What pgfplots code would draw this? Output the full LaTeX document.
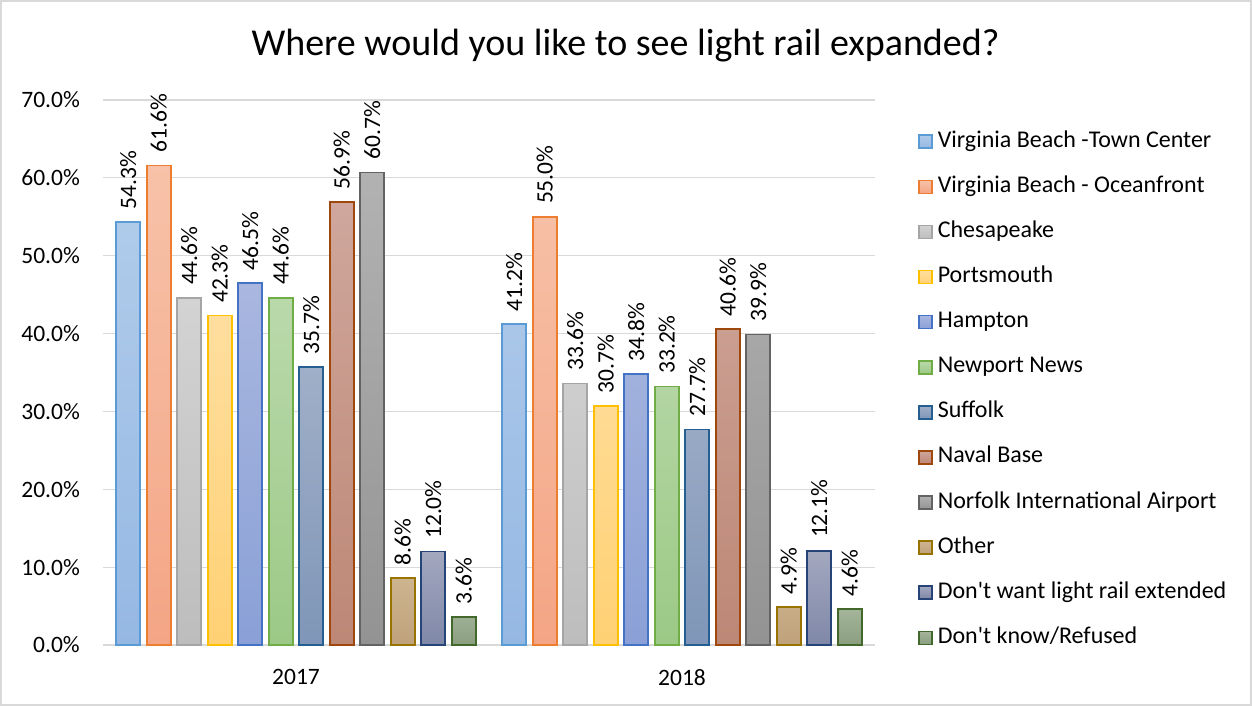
\documentclass[border=0pt]{standalone}
\usepackage{pgfplots}
\usepackage{pgfplotstable}
\pgfplotsset{compat=1.18}
\usepackage{fontspec}
\setmainfont{Carlito}

\definecolor{gridc}{HTML}{D9D9D9}
\definecolor{t1}{HTML}{B0CBEA}\definecolor{u1}{HTML}{95B8E3}\definecolor{d1}{HTML}{5B9BD5}
\definecolor{t2}{HTML}{F7C2A9}\definecolor{u2}{HTML}{F4A585}\definecolor{d2}{HTML}{ED7D31}
\definecolor{t3}{HTML}{D3D3D3}\definecolor{u3}{HTML}{BDBDBD}\definecolor{d3}{HTML}{A5A5A5}
\definecolor{t4}{HTML}{FFDE9E}\definecolor{u4}{HTML}{FFD174}\definecolor{d4}{HTML}{FFC000}
\definecolor{t5}{HTML}{A9B7E0}\definecolor{u5}{HTML}{8AA0D6}\definecolor{d5}{HTML}{4472C4}
\definecolor{t6}{HTML}{BAD9AB}\definecolor{u6}{HTML}{9CC986}\definecolor{d6}{HTML}{70AD47}
\definecolor{t7}{HTML}{A0AFC8}\definecolor{u7}{HTML}{7F96B8}\definecolor{d7}{HTML}{255E91}
\definecolor{t8}{HTML}{CFA79C}\definecolor{u8}{HTML}{BD8776}\definecolor{d8}{HTML}{9E480E}
\definecolor{t9}{HTML}{B2B2B2}\definecolor{u9}{HTML}{939393}\definecolor{d9}{HTML}{636363}
\definecolor{t10}{HTML}{CDB590}\definecolor{u10}{HTML}{BFA27A}\definecolor{d10}{HTML}{997300}
\definecolor{t11}{HTML}{A3A8BF}\definecolor{u11}{HTML}{8088A8}\definecolor{d11}{HTML}{264478}
\definecolor{t12}{HTML}{A4B59A}\definecolor{u12}{HTML}{8A9E7F}\definecolor{d12}{HTML}{43682B}

\pgfplotstableread{
x s1 s2 s3 s4 s5 s6 s7 s8 s9 s10 s11 s12
0 54.3 61.6 44.6 42.3 46.5 44.6 35.7 56.9 60.7 8.6 12.0 3.6
1 41.2 55.0 33.6 30.7 34.8 33.2 27.7 40.6 39.9 4.9 12.1 4.6
}\datatable

\pgfplotsset{
  bs/.style={top color=t#1, bottom color=u#1, draw=d#1, line width=1.6pt},
}

\begin{document}
\begin{tikzpicture}[x=1pt,y=1pt]
\useasboundingbox (0pt,0pt) rectangle (1252pt,706pt);
\draw[gridc, line width=1.2pt] (1pt,1pt) rectangle (1251pt,705pt);
\node[font=\fontsize{38}{44}\selectfont, anchor=center] at (625.5pt,660pt) {Where would you like to see light rail expanded?};
\begin{axis}[
  at={(103pt,61pt)}, anchor=south west,
  scale only axis, width=772pt, height=545pt,
  ybar=6.5pt, bar width=24pt,
  xmin=-0.5, xmax=1.5, ymin=0, ymax=70,
  enlargelimits=false, clip=false,
  xtick={0,1}, xticklabels={2017,2018},
  ytick={0,10,...,70},
  yticklabel={\pgfmathprintnumber[fixed,fixed zerofill,precision=1]{\tick}\%},
  /pgf/number format/assume math mode=true,
  ticklabel style={font=\fontsize{23.5}{28}\selectfont, inner sep=0pt},
  yticklabel style={anchor=east, xshift=-23pt},
  xticklabel style={anchor=north, yshift=-20pt},
  axis lines*=left,
  y axis line style={draw=none},
  x axis line style={gridc, line width=1.5pt},
  tick style={draw=none},
  ymajorgrids, major grid style={gridc, line width=1.2pt},
  nodes near coords={\pgfmathprintnumber[fixed,fixed zerofill,precision=1]{\pgfplotspointmeta}\%},
  every node near coord/.append style={rotate=90, anchor=west, font=\fontsize{23.5}{28}\selectfont, inner ysep=0pt, inner xsep=12pt, black},
  legend cell align=left,
  legend image code/.code={\draw[#1] (0pt,-6.5pt) rectangle (13pt,6.5pt);},
  legend style={at={(1,1)}, anchor=north west, xshift=40pt, yshift=-29pt, draw=none, fill=none,
    font=\fontsize{24}{29}\selectfont, row sep=24.1pt, column sep=5pt,
    nodes={inner sep=0pt, text height=16pt, text depth=5pt}},
]
\addplot[bs=1] table[x=x,y=s1]{\datatable};
\addplot[bs=2] table[x=x,y=s2]{\datatable};
\addplot[bs=3] table[x=x,y=s3]{\datatable};
\addplot[bs=4] table[x=x,y=s4]{\datatable};
\addplot[bs=5] table[x=x,y=s5]{\datatable};
\addplot[bs=6] table[x=x,y=s6]{\datatable};
\addplot[bs=7] table[x=x,y=s7]{\datatable};
\addplot[bs=8] table[x=x,y=s8]{\datatable};
\addplot[bs=9] table[x=x,y=s9]{\datatable};
\addplot[bs=10] table[x=x,y=s10]{\datatable};
\addplot[bs=11] table[x=x,y=s11]{\datatable};
\addplot[bs=12] table[x=x,y=s12]{\datatable};
\legend{Virginia Beach -Town Center, Virginia Beach - Oceanfront, Chesapeake, Portsmouth, Hampton, Newport News, Suffolk, Naval Base, Norfolk International Airport, Other, Don\textquotesingle t want light rail extended, Don\textquotesingle t know/Refused}
\end{axis}
\end{tikzpicture}
\end{document}
